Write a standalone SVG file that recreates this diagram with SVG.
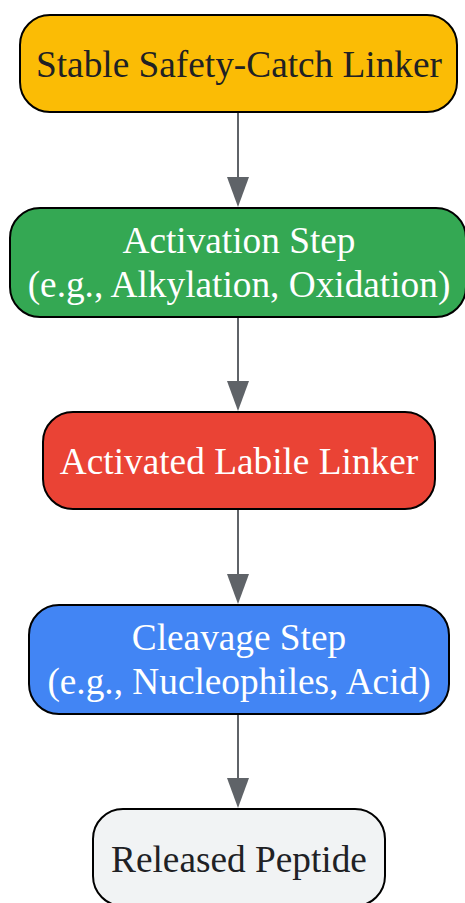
<svg xmlns="http://www.w3.org/2000/svg" width="465" height="903" viewBox="0 0 465 903">
<defs>
<style>
.n{stroke:#000;stroke-width:2}
.t{font-family:"Liberation Serif","Times New Roman",serif;font-size:37.3px;text-anchor:middle}
.d{fill:#202124}
.w{fill:#fff}
.e{stroke:#5f6368;stroke-width:2;fill:none}
.a{fill:#5f6368}
</style>
</defs>
<g id="edges">
<line class="e" x1="238" y1="112" x2="238" y2="178"/><path class="a" d="M227,177 L249,177 L238,207 Z"/>
<line class="e" x1="238" y1="317" x2="238" y2="382"/><path class="a" d="M227,381 L249,381 L238,411 Z"/>
<line class="e" x1="238" y1="509" x2="238" y2="575"/><path class="a" d="M227,574 L249,574 L238,604 Z"/>
<line class="e" x1="238" y1="714" x2="238" y2="779"/><path class="a" d="M227,778 L249,778 L238,808 Z"/>
</g>
<g id="node1">
<rect class="n" x="20" y="15" width="437" height="97" rx="30" fill="#fbbc05"/>
<text class="t d" x="239" y="77">Stable Safety-Catch Linker</text>
</g>
<g id="node2">
<rect class="n" x="10" y="208" width="456" height="109" rx="30" fill="#34a853"/>
<text class="t w" x="239" y="253">Activation Step</text>
<text class="t w" x="239" y="297">(e.g., Alkylation, Oxidation)</text>
</g>
<g id="node3">
<rect class="n" x="43" y="412" width="392" height="97" rx="30" fill="#ea4335"/>
<text class="t w" x="239" y="474">Activated Labile Linker</text>
</g>
<g id="node4">
<rect class="n" x="29" y="605" width="420" height="109" rx="30" fill="#4285f4"/>
<text class="t w" x="239" y="650">Cleavage Step</text>
<text class="t w" x="239" y="694">(e.g., Nucleophiles, Acid)</text>
</g>
<g id="node5">
<rect class="n" x="93" y="809" width="292" height="97" rx="30" fill="#f1f3f4"/>
<text class="t d" x="239" y="872">Released Peptide</text>
</g>
</svg>
